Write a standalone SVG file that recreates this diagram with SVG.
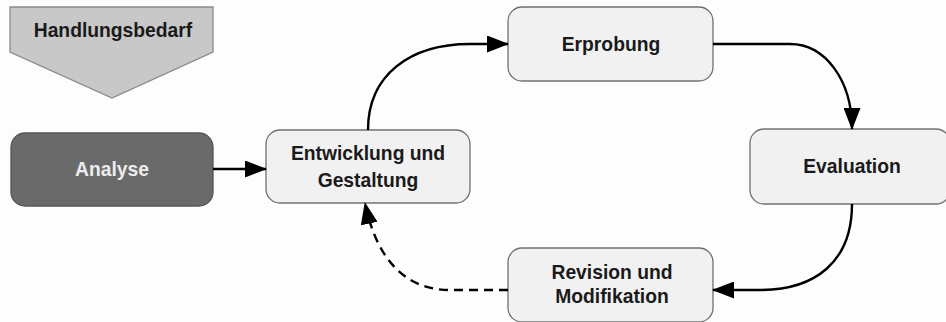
<svg xmlns="http://www.w3.org/2000/svg" width="946" height="322" viewBox="0 0 946 322">
  <defs>
    <marker id="head" viewBox="0 0 22 17" refX="21" refY="8.5" markerWidth="22" markerHeight="17" markerUnits="userSpaceOnUse" orient="auto">
      <path d="M0,0 L22,8.5 L0,17 Z" fill="#000"/>
    </marker>
    <style>
      .box { fill: #f1f1f1; stroke: #707070; stroke-width: 1.3; }
      .dark { fill: #6a6a6a; stroke: #555; stroke-width: 1.3; }
      .lbl { font-family: "Liberation Sans", Arial, sans-serif; font-weight: bold; font-size: 19.3px; fill: #1a1a1a; text-anchor: middle; }
      .light { fill: #ececec; }
      .edge { fill: none; stroke: #000; stroke-width: 2.4; }
      .dash { stroke-dasharray: 9 6; }
    </style>
  </defs>
  <rect width="946" height="322" fill="#fdfdfd"/>

  <g id="handlungsbedarf">
    <path d="M10,7 L213,7 L213,52 L112,98 L10,52 Z" fill="#c8c8c8" stroke="#8a8a8a" stroke-width="1.3"/>
    <text class="lbl" x="113" y="37">Handlungsbedarf</text>
  </g>

  <g id="analyse">
    <rect class="dark" x="11" y="133" width="202" height="73" rx="14"/>
    <text class="lbl light" x="112" y="176">Analyse</text>
  </g>

  <g id="entwicklung">
    <rect class="box" x="266" y="130" width="204" height="73" rx="14"/>
    <text class="lbl" x="368" y="160">Entwicklung und</text>
    <text class="lbl" x="368" y="187">Gestaltung</text>
  </g>

  <g id="erprobung">
    <rect class="box" x="508" y="7" width="205" height="74" rx="14"/>
    <text class="lbl" x="611" y="51">Erprobung</text>
  </g>

  <g id="evaluation">
    <rect class="box" x="750" y="129" width="200" height="75" rx="14"/>
    <text class="lbl" x="852" y="173">Evaluation</text>
  </g>

  <g id="revision">
    <rect class="box" x="508" y="248" width="205" height="74" rx="14"/>
    <text class="lbl" x="612" y="279">Revision und</text>
    <text class="lbl" x="612" y="303">Modifikation</text>
  </g>

  <g id="connectors">
    <path class="edge" d="M213,169 L266,169" marker-end="url(#head)"/>
    <path class="edge" d="M368,130 C368,75 410,44 470,44 L508,44" marker-end="url(#head)"/>
    <path class="edge" d="M713,44 L790,44 C825,44 852,80 852,129" marker-end="url(#head)"/>
    <path class="edge" d="M852,204 C852,262 815,290 760,290 L713,290" marker-end="url(#head)"/>
    <path class="edge dash" d="M508,290 L450,290 C400,290 375,252 365,203" marker-end="url(#head)"/>
  </g>
</svg>
